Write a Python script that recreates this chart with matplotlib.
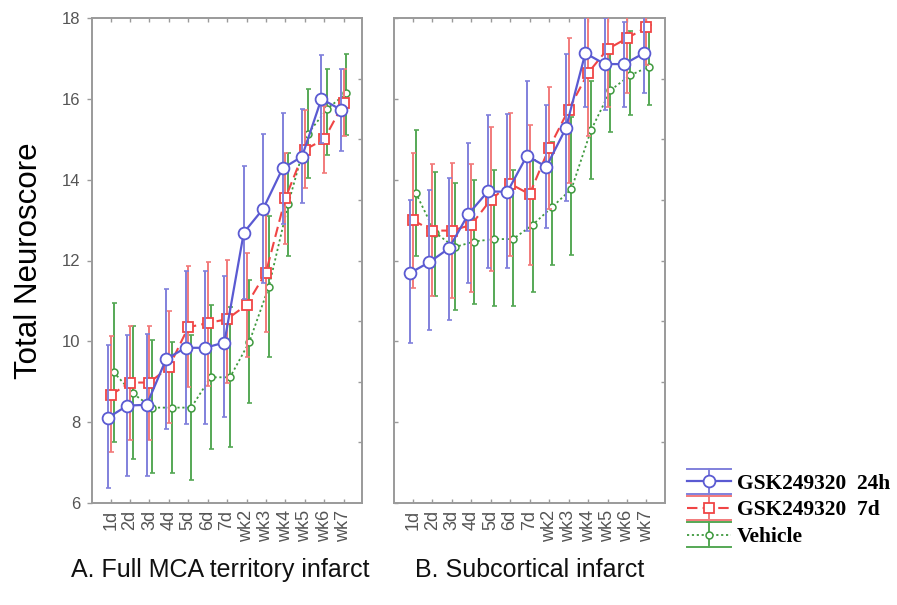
import numpy as np
import matplotlib
matplotlib.use("Agg")
import matplotlib.pyplot as plt
from matplotlib.lines import Line2D
from matplotlib.legend_handler import HandlerBase

cats = ['1d', '2d', '3d', '4d', '5d', '6d', '7d', 'wk2', 'wk3', 'wk4', 'wk5', 'wk6', 'wk7']
series_names = ['GSK249320  24h', 'GSK249320  7d', 'Vehicle']

# Panel A: Full MCA territory infarct
A_24h_mean = [8.11, 8.41, 8.43, 9.56, 9.84, 9.84, 9.97, 12.69, 13.28, 14.28, 14.57, 16.0, 15.73]
A_24h_lo = [6.36, 6.67, 6.66, 7.82, 7.96, 7.96, 8.14, 11.05, 11.45, 12.9, 13.43, 14.9, 14.71]
A_24h_hi = [9.91, 10.16, 10.18, 11.29, 11.73, 11.73, 11.62, 14.35, 15.13, 15.65, 15.74, 17.09, 16.74]

A_7d_mean = [8.67, 8.98, 8.98, 9.36, 10.35, 10.45, 10.55, 10.9, 11.7, 13.54, 14.74, 15.0, 15.89]
A_7d_lo = [7.27, 7.56, 7.56, 7.97, 8.88, 8.9, 8.96, 9.62, 10.24, 12.4, 13.79, 14.17, 15.08]
A_7d_hi = [10.13, 10.38, 10.38, 10.75, 11.87, 11.96, 12.01, 12.18, 13.16, 14.67, 15.73, 15.83, 16.74]

A_veh_mean = [9.24, 8.71, 8.36, 8.36, 8.36, 9.11, 9.11, 9.99, 11.35, 13.4, 15.13, 15.75, 16.14]
A_veh_lo = [7.52, 7.1, 6.73, 6.75, 6.57, 7.33, 7.39, 8.47, 9.62, 12.1, 14.04, 14.6, 15.1]
A_veh_hi = [10.94, 10.38, 10.03, 9.99, 10.15, 10.9, 10.85, 11.52, 13.1, 14.67, 16.24, 16.75, 17.11]

# Panel B: Subcortical infarct
B_24h_mean = [11.69, 11.96, 12.3, 13.15, 13.71, 13.7, 14.59, 14.32, 15.27, 17.13, 16.86, 16.86, 17.13]
B_24h_lo = [9.95, 10.28, 10.53, 11.44, 11.81, 11.81, 12.73, 12.8, 13.46, 15.81, 15.73, 15.81, 16.14]
B_24h_hi = [13.5, 13.75, 14.05, 14.9, 15.6, 15.63, 16.45, 15.85, 17.1, 18.45, 18.0, 17.9, 18.1]

B_7d_mean = [13.0, 12.74, 12.74, 12.88, 13.5, 13.9, 13.64, 14.78, 15.73, 16.64, 17.23, 17.5, 17.77]
B_7d_lo = [11.31, 11.11, 11.07, 11.23, 11.73, 12.1, 11.89, 13.27, 13.91, 15.08, 15.8, 16.14, 16.84]
B_7d_hi = [14.67, 14.39, 14.42, 14.39, 15.31, 15.65, 15.36, 16.29, 17.5, 18.2, 18.6, 18.8, 18.7]

B_veh_mean = [13.68, 12.69, 12.33, 12.47, 12.53, 12.53, 12.88, 13.32, 13.77, 15.22, 16.21, 16.58, 16.8]
B_veh_lo = [12.1, 11.13, 10.78, 10.93, 10.88, 10.87, 11.23, 11.89, 12.14, 14.01, 15.17, 15.6, 15.85]
B_veh_hi = [15.23, 14.2, 13.91, 14.0, 14.24, 14.24, 14.49, 14.94, 15.56, 16.43, 17.17, 17.67, 17.83]

panel_titles = ['A. Full MCA territory infarct', 'B. Subcortical infarct']

# styles
styles = [
    dict(color='#5a5ad2', ecolor='#8080dc', ls='-', lw=1.6, marker='o', ms=8.5, mew=1.3, offset=-0.14, dashes=None, z=5),
    dict(color='#f04545', ecolor='#f27a7a', ls='--', lw=1.5, marker='s', ms=7.5, mew=1.3, offset=0.0, dashes=(5, 2.5), z=4),
    dict(color='#3f9a3f', ecolor='#55a855', ls=':', lw=1.3, marker='o', ms=5, mew=1.1, offset=0.15, dashes=(1.2, 1.5), z=3),
]

fig = plt.figure(figsize=(8.97, 6.05), dpi=100)
plt.rcParams['font.family'] = ['Liberation Sans', 'DejaVu Sans']

ax_pos = [
    [92 / 897, 1 - 503 / 605, (362 - 92) / 897, (503 - 18) / 605],
    [394 / 897, 1 - 503 / 605, (665 - 394) / 897, (503 - 18) / 605],
]
title_x = [0.474, 0.502]

panels = [
    [(A_24h_mean, A_24h_lo, A_24h_hi), (A_7d_mean, A_7d_lo, A_7d_hi), (A_veh_mean, A_veh_lo, A_veh_hi)],
    [(B_24h_mean, B_24h_lo, B_24h_hi), (B_7d_mean, B_7d_lo, B_7d_hi), (B_veh_mean, B_veh_lo, B_veh_hi)],
]

x = np.arange(len(cats))
spine_col = '#9a9a9a'
tick_col = '#555555'

for pi, (pos, pdata) in enumerate(zip(ax_pos, panels)):
    ax = fig.add_axes(pos)
    order = [2, 1, 0]
    for si in order:
        st = styles[si]
        m, lo, hi = (np.array(v) for v in pdata[si])
        yerr = np.vstack([m - lo, hi - m])
        ax.errorbar(x + st['offset'], m, yerr=yerr, fmt='none', ecolor=st['ecolor'],
                    elinewidth=1.4, capsize=1.8, capthick=1.2, zorder=st['z'])
        ln, = ax.plot(x + st['offset'], m, color=st['color'], ls=st['ls'], lw=st['lw'],
                      marker=st['marker'], ms=st['ms'], mfc='white', mec=st['color'],
                      mew=st['mew'], zorder=st['z'] + 0.5)
        if st['dashes'] is not None:
            ln.set_dashes(st['dashes'])
    ax.set_xlim(-0.96, 12.95)
    ax.set_ylim(6, 18)
    ax.set_xticks(x)
    ax.set_xticklabels(cats, rotation=90, fontsize=13, color=tick_col)
    ax.set_yticks(np.arange(6, 19, 2))
    ax.tick_params(axis='x', direction='in', length=3, width=1, color=spine_col, top=True,
                   pad=5)
    if pi == 0:
        ax.tick_params(axis='y', direction='out', length=3.5, width=1, color=spine_col,
                       labelsize=12, labelcolor=tick_col, pad=5)
        ax.set_ylabel('Total Neuroscore', fontsize=22.5, labelpad=13)
    else:
        ax.tick_params(axis='y', direction='in', length=3, width=1, color=spine_col,
                       labelleft=False)
    for sp in ax.spines.values():
        sp.set_color(spine_col)
        sp.set_linewidth(1.4)
    ax2 = ax.twinx()
    ax2.set_ylim(6, 18)
    ax2.set_yticks(np.arange(7.5, 17, 1.5))
    ax2.tick_params(axis='y', direction='in', length=3, width=1, color=spine_col, labelright=False)
    for sp in ax2.spines.values():
        sp.set_visible(False)
    ax.text(title_x[pi], -0.138, panel_titles[pi], transform=ax.transAxes,
            ha='center', va='center', fontsize=18, color='#111111')


class ErrHandler(HandlerBase):
    def __init__(self, st):
        super().__init__()
        self.st = st

    def create_artists(self, legend, orig_handle, xdescent, ydescent, width, height, fontsize, trans):
        st = self.st
        x0, x1 = -xdescent, -xdescent + width
        y0, y1 = -ydescent, -ydescent + height
        xm, ym = (x0 + x1) / 2, (y0 + y1) / 2
        arts = []
        for yy in (y0, y1):
            arts.append(Line2D([x0, x1], [yy, yy], color=st['ecolor'], lw=1.4))
        arts.append(Line2D([xm, xm], [y0, y1], color=st['ecolor'], lw=1.4))
        l = Line2D([x0, x1], [ym, ym], color=st['color'], lw=st['lw'], ls=st['ls'])
        if st['dashes'] is not None:
            l.set_dashes(st['dashes'])
        arts.append(l)
        arts.append(Line2D([xm], [ym], marker=st['marker'], ms=st['ms'], mfc='white',
                           mec=st['color'], mew=st['mew'], ls='none'))
        for a in arts:
            a.set_transform(trans)
        return arts


handles = [Line2D([], [], color=s['color']) for s in styles]
handler_map = {h: ErrHandler(s) for h, s in zip(handles, styles)}
fig.legend(handles, series_names, handler_map=handler_map, loc='upper left',
           bbox_to_anchor=(687 / 897, 1 - 469 / 605), frameon=False, borderpad=0,
           borderaxespad=0,
           handlelength=2.05, handleheight=1.4, labelspacing=0.08, handletextpad=0.25,
           prop={'family': 'Liberation Serif', 'weight': 'bold', 'size': 15.5})

fig.savefig('out.png', dpi=100)
